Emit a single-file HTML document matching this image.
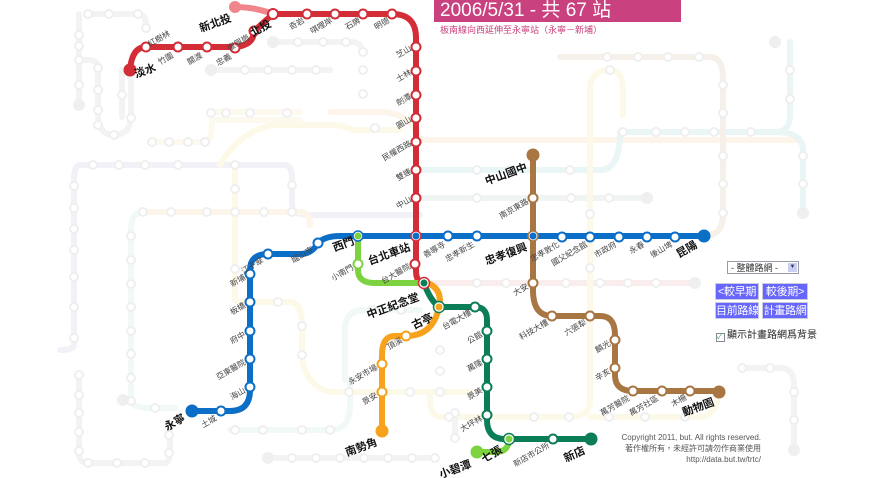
<!DOCTYPE html>
<html><head><meta charset="utf-8"><style>
html,body{margin:0;padding:0;background:#fff;}
body{width:878px;height:478px;position:relative;overflow:hidden;font-family:"Liberation Sans","Noto Sans CJK TC",sans-serif;}
.hdr{position:absolute;left:434px;top:0;width:247px;height:22px;background:#c9417f;color:#fff;font-size:19px;line-height:22px;padding-left:6px;box-sizing:border-box;}
.sub{position:absolute;left:440px;top:23px;font-size:9px;color:#c9417f;}
.sel{position:absolute;left:727px;top:261px;width:72px;height:13px;border:1px solid #99a;font-size:9px;line-height:13px;box-sizing:border-box;background:#fff;color:#333;padding-left:3px;}
.sel b{position:absolute;right:1px;top:1px;width:9px;height:9px;background:#c8d0f0;font-size:6px;text-align:center;line-height:9px;color:#336;font-weight:normal;}
.btn{position:absolute;height:17px;background:#6666ff;color:#fff;font-size:11px;line-height:17px;text-align:center;border:1px solid #ccd;box-sizing:border-box;white-space:nowrap;overflow:hidden;letter-spacing:-0.3px;}
.chk{position:absolute;left:716px;top:326px;font-size:10px;color:#222;}
.chk i{display:inline-block;width:7px;height:7px;border:1px solid #889;vertical-align:-1px;margin-right:2px;font-style:normal;font-size:7px;line-height:7px;color:#393;}
.copy{position:absolute;right:117px;top:432px;text-align:right;font-size:8px;color:#555;line-height:11px;}
</style></head><body>
<svg width="878" height="478" style="position:absolute;left:0;top:0" font-family="Liberation Sans, Noto Sans CJK TC, sans-serif">
<g fill="none" stroke-width="6" stroke-linecap="round" stroke-linejoin="round">
<path d="M88,14 H138 Q146,14 146,25 V30" stroke="#f3f3f3"/>
<path d="M79,14 V100" stroke="#f3f3f3"/>
<path d="M79,60 H90 Q98,60 98,70 V115 Q98,135 114,135 Q131,135 131,115 V85 Q131,70 122,70 Q122,100 122,117" stroke="#f3f3f3"/>
<path d="M210,70 H330" stroke="#f3f3f3"/>
<path d="M272,42 H350 Q362,42 362,52" stroke="#f3f3f3"/>
<path d="M152,142 H205 Q212,142 212,120 H300" stroke="#fdf9ee"/>
<path d="M210,112 H300" stroke="#fdf9ee"/>
<path d="M80,165 H285 Q292,165 292,180 V205 Q292,215 310,215 H420" stroke="#f1f1f7"/>
<path d="M80,165 Q74,165 74,180 V345 Q74,350 60,350" stroke="#f1f1f7"/>
<path d="M143,212 H300 Q310,212 310,225" stroke="#fdf4ea"/>
<path d="M143,212 Q131,212 131,230 V400 Q131,408 150,408 H175" stroke="#f1f9f6"/>
<path d="M79,375 V455 Q79,463 90,463 H165 Q170,463 170,450 V430" stroke="#f3f3f3"/>
<path d="M235,165 V300 Q235,302 250,302 H290 Q300,302 302,320 V355 Q304,385 330,392 H470" stroke="#fdf9e8"/>
<path d="M268,458 H435" stroke="#f3f3f3"/>
<path d="M230,430 H330 Q352,430 350,400 V380" stroke="#f1f9f6"/>
<path d="M345,380 V330 Q345,310 365,310 H420" stroke="#f1f9f6"/>
<path d="M220,165 Q240,130 275,125 H330 Q345,125 352,130 H400" stroke="#fdf9e8"/>
<path d="M330,112 H380 Q410,112 420,140 H800" stroke="#fdf4ea"/>
<path d="M420,283 H695" stroke="#faeded"/>
<path d="M420,198 H647" stroke="#f0f5f3"/>
<path d="M420,170 H600 Q620,170 620,132 H775 Q790,132 790,115 V42" stroke="#eaf6f6"/>
<path d="M775,132 Q803,132 803,150 V213" stroke="#eaf6f6"/>
<path d="M560,57 H710 Q723,57 723,80 V215 Q723,236 704,236" stroke="#f5f1ea"/>
<path d="M590,180 V90 Q590,70 610,70 Q623,70 623,90 V115" stroke="#fdf9e8"/>
<path d="M590,180 V400 Q590,417 570,417 H440 Q430,417 430,395" stroke="#fdf9e8"/>
<path d="M590,417 H700 Q715,417 719,392" stroke="#fdf9e8"/>
<path d="M740,368 H780 Q794,368 794,385 V448" stroke="#f3f3f3"/>
<path d="M455,415 V440" stroke="#f3f3f3"/>
<path d="M235,7 Q255,7 273,14" stroke="#f0868c"/>
<path d="M130,70 Q132,47 146,47 H235 Q254,45 254,31 L273,14 H392 Q416,14 416,38 V270 Q416,283 424,283" stroke="#d32d37"/>
<path d="M192,411 H230 Q250,411 250,390 V270 Q250,254 268,254 H300 Q312,254 318,243 Q325,236 340,236 H704" stroke="#0c6fc7"/>
<path d="M358,236 V270 Q358,283 375,283 H424" stroke="#7dd23f"/>
<path d="M477,452 H495 Q509,452 509,439" stroke="#7dd23f"/>
<path d="M424,283 Q430,300 439,307 H475 Q487,307 487,320 V420 Q487,439 505,439 H591" stroke="#0b7d57"/>
<path d="M428,283 Q443,290 439,307 Q433,336 406,336 H395 Q382,336 382,355 V431" stroke="#f6a21c"/>
<path d="M533,155 V290 Q533,316 552,316 H600 Q615,316 615,335 V375 Q615,391 633,391 H719" stroke="#a87643"/>
</g>
<g fill="#fff" stroke="#efefef" stroke-width="2">
<circle cx="88" cy="14" r="4"/><circle cx="109" cy="14" r="4"/><circle cx="138" cy="14" r="4"/><circle cx="146" cy="28" r="4"/><circle cx="79" cy="35" r="4"/><circle cx="79" cy="46" r="4"/><circle cx="79" cy="60" r="4"/><circle cx="98" cy="68" r="4"/><circle cx="79" cy="85" r="4"/><circle cx="98" cy="90" r="4"/><circle cx="98" cy="110" r="4"/><circle cx="98" cy="125" r="4"/><circle cx="114" cy="135" r="4"/><circle cx="122" cy="95" r="4"/><circle cx="131" cy="118" r="4"/>
<circle cx="245" cy="70" r="4"/><circle cx="268" cy="70" r="4"/><circle cx="292" cy="70" r="4"/><circle cx="316" cy="70" r="4"/><circle cx="298" cy="42" r="4"/><circle cx="323" cy="42" r="4"/><circle cx="346" cy="42" r="4"/><circle cx="363" cy="52" r="4"/><circle cx="363" cy="70" r="4"/><circle cx="363" cy="94" r="4"/><circle cx="375" cy="128" r="4"/>
<circle cx="152" cy="142" r="4"/><circle cx="169" cy="142" r="4"/><circle cx="188" cy="142" r="4"/><circle cx="205" cy="142" r="4"/><circle cx="211" cy="113" r="4"/><circle cx="250" cy="113" r="4"/><circle cx="287" cy="113" r="4"/><circle cx="226" cy="113" r="4"/>
<circle cx="93" cy="165" r="4"/><circle cx="119" cy="165" r="4"/><circle cx="145" cy="165" r="4"/><circle cx="178" cy="165" r="4"/><circle cx="235" cy="165" r="4"/><circle cx="292" cy="185" r="4"/><circle cx="74" cy="186" r="4"/><circle cx="74" cy="208" r="4"/><circle cx="74" cy="229" r="4"/><circle cx="74" cy="250" r="4"/><circle cx="74" cy="277" r="4"/><circle cx="74" cy="307" r="4"/><circle cx="74" cy="338" r="4"/>
<circle cx="143" cy="212" r="4"/><circle cx="171" cy="212" r="4"/><circle cx="207" cy="212" r="4"/><circle cx="235" cy="212" r="4"/><circle cx="264" cy="212" r="4"/><circle cx="292" cy="212" r="4"/><circle cx="235" cy="189" r="4"/><circle cx="131" cy="236" r="4"/><circle cx="131" cy="260" r="4"/><circle cx="131" cy="284" r="4"/><circle cx="131" cy="307" r="4"/><circle cx="131" cy="331" r="4"/><circle cx="131" cy="354" r="4"/><circle cx="131" cy="378" r="4"/><circle cx="131" cy="401" r="4"/><circle cx="155" cy="408" r="4"/>
<circle cx="79" cy="375" r="4"/><circle cx="79" cy="395" r="4"/><circle cx="79" cy="413" r="4"/><circle cx="79" cy="432" r="4"/><circle cx="79" cy="451" r="4"/><circle cx="88" cy="463" r="4"/><circle cx="117" cy="463" r="4"/><circle cx="145" cy="463" r="4"/><circle cx="169" cy="435" r="4"/><circle cx="169" cy="453" r="4"/>
<circle cx="235" cy="269" r="4"/><circle cx="278" cy="302" r="4"/><circle cx="302" cy="326" r="4"/><circle cx="302" cy="355" r="4"/><circle cx="349" cy="392" r="4"/><circle cx="410" cy="392" r="4"/><circle cx="440" cy="392" r="4"/><circle cx="372" cy="310" r="4"/><circle cx="401" cy="310" r="4"/>
<circle cx="235" cy="430" r="4"/><circle cx="263" cy="430" r="4"/><circle cx="302" cy="430" r="4"/><circle cx="330" cy="430" r="4"/><circle cx="292" cy="458" r="4"/><circle cx="316" cy="458" r="4"/><circle cx="340" cy="458" r="4"/><circle cx="364" cy="458" r="4"/><circle cx="388" cy="458" r="4"/><circle cx="412" cy="458" r="4"/><circle cx="435" cy="458" r="4"/><circle cx="455" cy="413" r="4"/><circle cx="455" cy="438" r="4"/><circle cx="440" cy="350" r="4"/><circle cx="440" cy="371" r="4"/>
<circle cx="477" cy="170" r="4"/><circle cx="510" cy="170" r="4"/><circle cx="570" cy="170" r="4"/><circle cx="477" cy="198" r="4"/><circle cx="571" cy="198" r="4"/><circle cx="609" cy="198" r="4"/><circle cx="477" cy="283" r="4"/><circle cx="506" cy="283" r="4"/><circle cx="566" cy="283" r="4"/><circle cx="600" cy="283" r="4"/><circle cx="628" cy="283" r="4"/><circle cx="656" cy="283" r="4"/><circle cx="590" cy="214" r="4"/><circle cx="590" cy="268" r="4"/><circle cx="610" cy="70" r="4"/>
<circle cx="607" cy="57" r="4"/><circle cx="638" cy="57" r="4"/><circle cx="668" cy="57" r="4"/><circle cx="699" cy="57" r="4"/><circle cx="723" cy="85" r="4"/><circle cx="723" cy="113" r="4"/><circle cx="723" cy="156" r="4"/><circle cx="723" cy="184" r="4"/><circle cx="723" cy="213" r="4"/><circle cx="623" cy="132" r="4"/><circle cx="656" cy="132" r="4"/><circle cx="685" cy="132" r="4"/><circle cx="714" cy="132" r="4"/><circle cx="751" cy="132" r="4"/><circle cx="790" cy="70" r="4"/><circle cx="790" cy="99" r="4"/><circle cx="803" cy="156" r="4"/><circle cx="803" cy="184" r="4"/>
<circle cx="449" cy="417" r="4"/><circle cx="534" cy="417" r="4"/><circle cx="569" cy="417" r="4"/><circle cx="609" cy="417" r="4"/><circle cx="645" cy="417" r="4"/><circle cx="685" cy="417" r="4"/><circle cx="742" cy="368" r="4"/><circle cx="770" cy="368" r="4"/><circle cx="794" cy="392" r="4"/><circle cx="794" cy="420" r="4"/>
</g>
<g fill="#efefef"><circle cx="79" cy="105" r="6"/><circle cx="211" cy="70" r="6"/><circle cx="273" cy="42" r="6"/><circle cx="123" cy="400" r="6"/><circle cx="268" cy="458" r="6"/><circle cx="647" cy="198" r="6"/><circle cx="695" cy="283" r="6"/><circle cx="775" cy="42" r="6"/><circle cx="803" cy="213" r="6"/><circle cx="794" cy="450" r="6"/></g>
<circle cx="235" cy="7" r="6" fill="#f0868c"/>
<circle cx="130" cy="70" r="6.5" fill="#d32d37"/>
<circle cx="192" cy="411" r="6.5" fill="#0c6fc7"/>
<circle cx="704" cy="236" r="6.5" fill="#0c6fc7"/>
<circle cx="477" cy="452" r="6.5" fill="#7dd23f"/>
<circle cx="591" cy="439" r="6.5" fill="#0b7d57"/>
<circle cx="382" cy="431" r="6.5" fill="#f6a21c"/>
<circle cx="533" cy="155" r="6.5" fill="#a87643"/>
<circle cx="719" cy="392" r="6.5" fill="#a87643"/>
<g fill="#fff" stroke-width="2">
<g stroke="#d32d37"><circle cx="146" cy="47" r="4.5"/><circle cx="178" cy="47" r="4.5"/><circle cx="207" cy="47" r="4.5"/><circle cx="235" cy="48" r="4.5"/><circle cx="254" cy="31" r="4.5"/><circle cx="307" cy="14" r="4.5"/><circle cx="335" cy="14" r="4.5"/><circle cx="363" cy="14" r="4.5"/><circle cx="392" cy="14" r="4.5"/><circle cx="416" cy="47" r="4.5"/><circle cx="416" cy="71" r="4.5"/><circle cx="416" cy="95" r="4.5"/><circle cx="416" cy="118" r="4.5"/><circle cx="416" cy="142" r="4.5"/><circle cx="416" cy="170" r="4.5"/><circle cx="416" cy="198" r="4.5"/><circle cx="415" cy="264" r="4.5"/><circle cx="273" cy="14" r="5"/></g>
<g stroke="#0c6fc7"><circle cx="221" cy="411" r="4.5"/><circle cx="250" cy="387" r="4.5"/><circle cx="250" cy="359" r="4.5"/><circle cx="250" cy="331" r="4.5"/><circle cx="250" cy="302" r="4.5"/><circle cx="250" cy="274" r="4.5"/><circle cx="268" cy="254" r="4.5"/><circle cx="318" cy="243" r="4.5"/><circle cx="448" cy="236" r="4.5"/><circle cx="477" cy="236" r="4.5"/><circle cx="562" cy="237" r="4.5"/><circle cx="590" cy="237" r="4.5"/><circle cx="619" cy="237" r="4.5"/><circle cx="647" cy="237" r="4.5"/><circle cx="675" cy="237" r="4.5"/></g>
<g stroke="#7dd23f"><circle cx="358" cy="264" r="4.5"/></g>
<g stroke="#0b7d57"><circle cx="475" cy="307" r="4.5"/><circle cx="487" cy="331" r="4.5"/><circle cx="487" cy="359" r="4.5"/><circle cx="487" cy="387" r="4.5"/><circle cx="487" cy="415" r="4.5"/><circle cx="553" cy="439" r="4.5"/></g>
<g stroke="#f6a21c"><circle cx="406" cy="336" r="4.5"/><circle cx="382" cy="364" r="4.5"/><circle cx="382" cy="392" r="4.5"/></g>
<g stroke="#a87643"><circle cx="533" cy="198" r="4.5"/><circle cx="533" cy="283" r="4.5"/><circle cx="552" cy="316" r="4.5"/><circle cx="590" cy="316" r="4.5"/><circle cx="615" cy="340" r="4.5"/><circle cx="615" cy="368" r="4.5"/><circle cx="633" cy="391" r="4.5"/><circle cx="662" cy="391" r="4.5"/><circle cx="690" cy="391" r="4.5"/></g>
</g>
<circle cx="358" cy="236" r="5" fill="#fff"/><circle cx="358" cy="236" r="3.5" fill="#7dd23f"/><circle cx="358" cy="236" r="5" fill="none" stroke="#0c6fc7" stroke-width="1.5"/>
<circle cx="416" cy="236" r="5" fill="#fff"/><circle cx="416" cy="236" r="3.5" fill="#0c6fc7"/><circle cx="416" cy="236" r="5" fill="none" stroke="#d32d37" stroke-width="1.5"/>
<circle cx="533" cy="236" r="5" fill="#fff"/><circle cx="533" cy="236" r="3.5" fill="#0c6fc7"/><circle cx="533" cy="236" r="5" fill="none" stroke="#a87643" stroke-width="1.5"/>
<circle cx="424" cy="283" r="5.5" fill="#fff"/><circle cx="424" cy="283" r="3.5" fill="#0b7d57"/><circle cx="424" cy="283" r="5.5" fill="none" stroke="#d32d37" stroke-width="1.5"/>
<circle cx="439" cy="307" r="5.5" fill="#fff"/><circle cx="439" cy="307" r="3.5" fill="#f6a21c"/><circle cx="439" cy="307" r="5.5" fill="none" stroke="#0b7d57" stroke-width="1.5"/>
<circle cx="509" cy="439" r="5.5" fill="#fff"/><circle cx="509" cy="439" r="3.5" fill="#7dd23f"/><circle cx="509" cy="439" r="5.5" fill="none" stroke="#0b7d57" stroke-width="1.5"/>
<g font-size="8" fill="#444" text-anchor="end">
<text transform="translate(412,50) rotate(-30)">芝山</text>
<text transform="translate(412,74) rotate(-30)">士林</text>
<text transform="translate(412,98) rotate(-30)">劍潭</text>
<text transform="translate(412,121) rotate(-30)">圓山</text>
<text transform="translate(412,145) rotate(-30)">民權西路</text>
<text transform="translate(412,173) rotate(-30)">雙連</text>
<text transform="translate(412,201) rotate(-30)">中山</text>
<text transform="translate(411,268) rotate(-30)">台大醫院</text>
<text transform="translate(305,22) rotate(-30)">奇岩</text>
<text transform="translate(333,22) rotate(-30)">唭哩岸</text>
<text transform="translate(361,22) rotate(-30)">石牌</text>
<text transform="translate(390,22) rotate(-30)">明德</text>
<text transform="translate(150,47) rotate(-30)" text-anchor="start">紅樹林</text>
<text transform="translate(174,57) rotate(-30)">竹圍</text>
<text transform="translate(203,57) rotate(-30)">關渡</text>
<text transform="translate(232,58) rotate(-30)">忠義</text>
<text transform="translate(250,39) rotate(-30)">復興崗</text>
<text transform="translate(217,420) rotate(-30)">土城</text>
<text transform="translate(246,392) rotate(-30)">海山</text>
<text transform="translate(246,364) rotate(-30)">亞東醫院</text>
<text transform="translate(246,336) rotate(-30)">府中</text>
<text transform="translate(246,307) rotate(-30)">板橋</text>
<text transform="translate(246,279) rotate(-30)">新埔</text>
<text transform="translate(264,262) rotate(-30)">江子翠</text>
<text transform="translate(314,251) rotate(-30)">龍山寺</text>
<text transform="translate(354,269) rotate(-30)">小南門</text>
<text transform="translate(446,246) rotate(-30)">善導寺</text>
<text transform="translate(475,246) rotate(-30)">忠孝新生</text>
<text transform="translate(560,246) rotate(-30)">忠孝敦化</text>
<text transform="translate(588,246) rotate(-30)">國父紀念館</text>
<text transform="translate(617,246) rotate(-30)">市政府</text>
<text transform="translate(645,246) rotate(-30)">永春</text>
<text transform="translate(673,246) rotate(-30)">後山埤</text>
<text transform="translate(529,203) rotate(-30)">南京東路</text>
<text transform="translate(529,288) rotate(-30)">大安</text>
<text transform="translate(549,324) rotate(-30)">科技大樓</text>
<text transform="translate(587,324) rotate(-30)">六張犁</text>
<text transform="translate(611,345) rotate(-30)">麟光</text>
<text transform="translate(611,373) rotate(-30)">辛亥</text>
<text transform="translate(630,400) rotate(-30)">萬芳醫院</text>
<text transform="translate(659,400) rotate(-30)">萬芳社區</text>
<text transform="translate(687,399) rotate(-30)">木柵</text>
<text transform="translate(472,314) rotate(-30)">台電大樓</text>
<text transform="translate(483,336) rotate(-30)">公館</text>
<text transform="translate(483,364) rotate(-30)">萬隆</text>
<text transform="translate(483,392) rotate(-30)">景美</text>
<text transform="translate(483,420) rotate(-30)">大坪林</text>
<text transform="translate(550,447) rotate(-30)">新店市公所</text>
<text transform="translate(403,342) rotate(-30)">頂溪</text>
<text transform="translate(378,369) rotate(-30)">永安市場</text>
<text transform="translate(378,397) rotate(-30)">景安</text>
</g>
<g font-size="11" font-weight="bold" fill="#111" text-anchor="end">
<text transform="translate(232,21) rotate(-20)">新北投</text>
<text transform="translate(272,26) rotate(-30)">北投</text>
<text transform="translate(136,78) rotate(-20)" text-anchor="start">淡水</text>
<text transform="translate(186,420) rotate(-30)">永寧</text>
<text transform="translate(355,244) rotate(-20)">西門</text>
<text transform="translate(411,250) rotate(-20)">台北車站</text>
<text transform="translate(528,250) rotate(-20)">忠孝復興</text>
<text transform="translate(698,247) rotate(-30)">昆陽</text>
<text transform="translate(528,170) rotate(-20)">中山國中</text>
<text transform="translate(715,405) rotate(-20)">動物園</text>
<text transform="translate(420,300) rotate(-20)">中正紀念堂</text>
<text transform="translate(434,320) rotate(-25)">古亭</text>
<text transform="translate(378,445) rotate(-20)">南勢角</text>
<text transform="translate(503,452) rotate(-30)">七張</text>
<text transform="translate(472,467) rotate(-20)">小碧潭</text>
<text transform="translate(586,453) rotate(-25)">新店</text>
</g>
</svg>
<div class="hdr">2006/5/31 - 共 67 站</div>
<div class="sub">板南線向西延伸至永寧站（永寧－新埔）</div>
<div class="sel">- 整體路網 -<b>▼</b></div>
<div class="btn" style="left:715px;top:283px;width:44px;">&lt;較早期</div>
<div class="btn" style="left:762px;top:283px;width:46px;">較後期&gt;</div>
<div class="btn" style="left:715px;top:302px;width:44px;">目前路線</div>
<div class="btn" style="left:762px;top:302px;width:46px;">計畫路網</div>
<div class="chk"><i>✓</i>顯示計畫路網爲背景</div>
<div class="copy">Copyright 2011, but. All rights reserved.<br>著作權所有，未經許可請勿作商業使用<br>http://data.but.tw/trtc/</div>
</body></html>
